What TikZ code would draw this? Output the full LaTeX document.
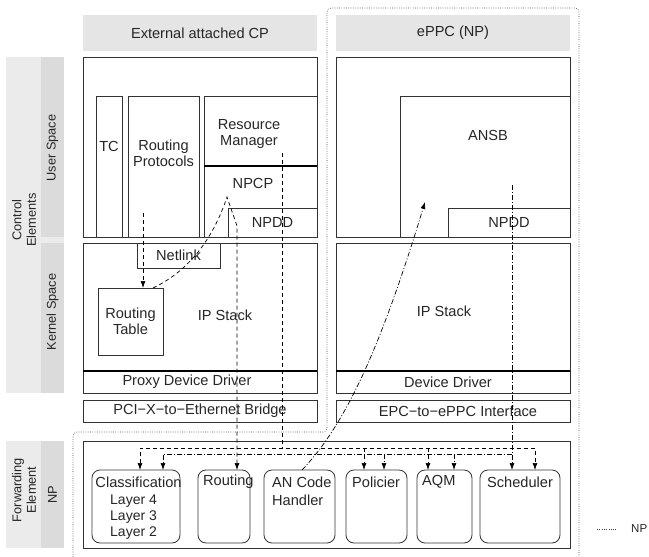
\documentclass[tikz,border=0pt]{standalone}
\usepackage{fontspec}
\setmainfont{Liberation Sans}
\usetikzlibrary{arrows.meta}
\begin{document}
\begin{tikzpicture}[x=1pt,y=-1pt,
  font=\fontsize{14.6}{16}\selectfont,
  every node/.style={text=black!85},
  box/.style={draw=black!80, line width=0.8pt, inner sep=0pt, outer sep=0pt, align=center},
  hdr/.style={fill=black!10, inner sep=0pt, outer sep=0pt, minimum width=234pt, minimum height=36pt},
  lblo/.style={fill=black!8, inner sep=0pt, outer sep=0pt},
  lbli/.style={fill=black!14, inner sep=0pt, outer sep=0pt},
  rbox/.style={box, rounded corners=8pt, minimum height=73pt},
  txt/.style={inner sep=0pt, align=center},
  ltxt/.style={inner sep=0pt, anchor=west, align=left},
  sidefont/.style={font=\fontsize{12.8}{14.5}\selectfont},
  sepline/.style={line width=2pt, draw=black},
  dsh/.style={draw=black, line width=0.7pt, dash pattern=on 4pt off 3pt},
  dshd/.style={draw=black, line width=0.7pt, dash pattern=on 5pt off 2pt on 1pt off 2pt},
  npline/.style={draw=black!75, line width=0.6pt, dash pattern=on 0.7pt off 1.6pt},
  tip/.style={-{Latex[length=7pt,width=5pt]}},
  tiptwo/.style={{Latex[length=7pt,width=5pt]}-{Latex[length=7pt,width=5pt]}}
]
\useasboundingbox (0,0) rectangle (649,557);

% NP boundary
\draw[npline, rounded corners=4pt] (73,557) -- (73,432) -- (327,432) -- (327,8) -- (579,8) -- (579,557);

% headers
\node[hdr] (hcp) at (200,33) {External attached CP};
\node[hdr] (hnp) at (453,33) {ePPC (NP)};

% left labels
\node[lblo, minimum width=58pt, minimum height=336pt] (ce) at (35,225) {};
\node[lbli, minimum width=23pt, minimum height=180pt] (us) at (52.5,147) {};
\node[lbli, minimum width=23pt, minimum height=150pt] (ks) at (52.5,318) {};
\node[txt, sidefont, rotate=90] (usT) at (52.5,148) {User Space};
\node[txt, sidefont, rotate=90] (ksT) at (52.5,312) {Kernel Space};
\node[txt, sidefont, rotate=90] (ceT) at (24,220) {Control\\Elements};

\node[lblo, minimum width=58pt, minimum height=107pt] (fe) at (35,494.5) {};
\node[lbli, minimum width=23pt, minimum height=107pt] (np) at (52.5,494.5) {};
\node[txt, sidefont, rotate=90] (npT) at (52.5,494.5) {NP};
\node[txt, sidefont, rotate=90] (feT) at (24,490) {Forwarding\\Element};

% left user space
\node[box, minimum width=234pt, minimum height=180pt] (usL) at (200,147) {};
\node[box, minimum width=26pt, minimum height=141pt] (tc) at (109,166.5) {};
\node[txt] (tcT) at (109,146) {TC};
\node[box, minimum width=71pt, minimum height=141pt] (rp) at (163.5,166.5) {};
\node[txt] (rpT) at (163.5,153) {Routing\\Protocols};
\node[box, minimum width=113pt, minimum height=70pt] (rm) at (260.5,131) {};
\node[txt] (rmT) at (249,134) {Resource\\Manager};
\node[box, minimum width=113pt, minimum height=71pt] (npcp) at (260.5,201.5) {};
\node[txt] (npcpT) at (253,183) {NPCP};
\draw[line width=1.8pt] (rm.south west) -- (rm.south east);
\node[box, minimum width=89pt, minimum height=29pt] (npddL) at (272.5,222.5) {NPDD};

% left kernel space
\node[box, minimum width=234pt, minimum height=150pt] (kL) at (200,318) {};
\node[box, fill=white, minimum width=83pt, minimum height=25pt] (nl) at (178.5,255.5) {Netlink};
\node[box, minimum width=65pt, minimum height=67pt] (rtab) at (130.5,321.5) {Routing\\Table};
\node[txt] (ipL) at (225,315) {IP Stack};
\node[box, minimum width=234pt, minimum height=22pt] (pdd) at (200,382) {};
\draw[sepline] (pdd.north west) -- (pdd.north east);
\node[txt] (pddT) at (187,382) {Proxy Device Driver};
\node[box, minimum width=234pt, minimum height=22pt] (br) at (200,411) {PCI−X−to−Ethernet Bridge};

% right user space
\node[box, minimum width=234pt, minimum height=180pt] (usR) at (453,147) {};
\node[box, minimum width=170pt, minimum height=141pt] (ansb) at (485,166.5) {};
\node[txt] (ansbT) at (488,135) {ANSB};
\node[box, minimum width=122pt, minimum height=29pt] (npddR) at (509,222.5) {NPDD};

% right kernel space
\node[box, minimum width=234pt, minimum height=150pt] (kR) at (453,318) {};
\node[txt] (ipR) at (444,311) {IP Stack};
\node[box, minimum width=234pt, minimum height=22pt] (dd) at (453,382) {};
\draw[sepline] (dd.north west) -- (dd.north east);
\node[txt] (ddT) at (448,382) {Device Driver};
\node[box, minimum width=234pt, minimum height=22pt] (epc) at (453,411) {};
\node[txt] (epcT) at (458,411) {EPC−to−ePPC Interface};

% forwarding element
\node[box, minimum width=487pt, minimum height=107pt] (feb) at (326.5,494.5) {};
\node[rbox, minimum width=88pt] (cls) at (136,506.5) {};
\node[rbox, minimum width=52pt] (rt) at (224,506.5) {};
\node[rbox, minimum width=71pt] (anc) at (299.5,506.5) {};
\node[rbox, minimum width=61pt] (pol) at (376.5,506.5) {};
\node[rbox, minimum width=55pt] (aqm) at (444.5,506.5) {};
\node[rbox, minimum width=80pt] (sch) at (520,506.5) {};
\node[txt] (clsT) at (138.5,482) {Classification};
\node[ltxt, font=\fontsize{14}{16}\selectfont] (l4) at (110,501) {Layer 4};
\node[ltxt, font=\fontsize{14}{16}\selectfont] (l3) at (110,517) {Layer 3};
\node[ltxt, font=\fontsize{14}{16}\selectfont] (l2) at (110,533) {Layer 2};
\node[ltxt] (rtT) at (203,482) {Routing};
\node[ltxt] (ancT) at (272,482) {AN Code};
\node[ltxt] (ancT2) at (272,500) {Handler};
\node[ltxt] (polT) at (352,482) {Policier};
\node[ltxt] (aqmT) at (422,482) {AQM};
\node[ltxt] (schT) at (487,482) {Scheduler};

% dashed connectors
\coordinate (rpS) at (143,213);
\draw[dsh, tip] (rpS) -- (rpS |- rtab.north);
\coordinate (peak) at (227,197);
\coordinate (knee) at (237,226);
\draw[dsh, tip] ([xshift=22.5pt]rtab.north) .. controls (195,268) and (216,230) .. (peak) -- (knee) -- (knee |- rt.north);

\coordinate (rmS) at (282,153);
\coordinate (dA) at (140,448);
\coordinate (dB) at (535,448);
\coordinate (dP) at (364,448);
\coordinate (dQ) at (428,448);
\draw[dsh] (rmS) -- (rmS |- dA);
\draw[dsh, tiptwo] (dA |- cls.north) -- (dA) -- (dB) -- (dB |- sch.north);
\draw[dsh, tip] (dP) -- (dP |- pol.north);
\draw[dsh, tip] (dQ) -- (dQ |- aqm.north);

% dash-dot connectors
\coordinate (aS) at (512,185);
\coordinate (cA) at (163,454);
\coordinate (cB) at (512,454);
\coordinate (cP) at (384,454);
\coordinate (cQ) at (454,454);
\draw[dshd, tip] (aS) -- (aS |- sch.north);
\draw[dshd, tip] (cB) -- (cA) -- (cA |- cls.north);
\draw[dshd, tip] (cP) -- (cP |- pol.north);
\draw[dshd, tip] (cQ) -- (cQ |- aqm.north);
\coordinate (ansbTip) at (425,202);
\draw[dshd, tip] ([xshift=2.5pt]anc.north) .. controls (345,425) and (380,350) .. (ansbTip);

% legend
\coordinate (lg1) at (597,529);
\coordinate (lg2) at (616,529);
\draw[npline] (lg1) -- (lg2);
\node[ltxt, font=\fontsize{11.5}{13}\selectfont] (lgT) at (631,529) {NP};
\end{tikzpicture}
\end{document}
